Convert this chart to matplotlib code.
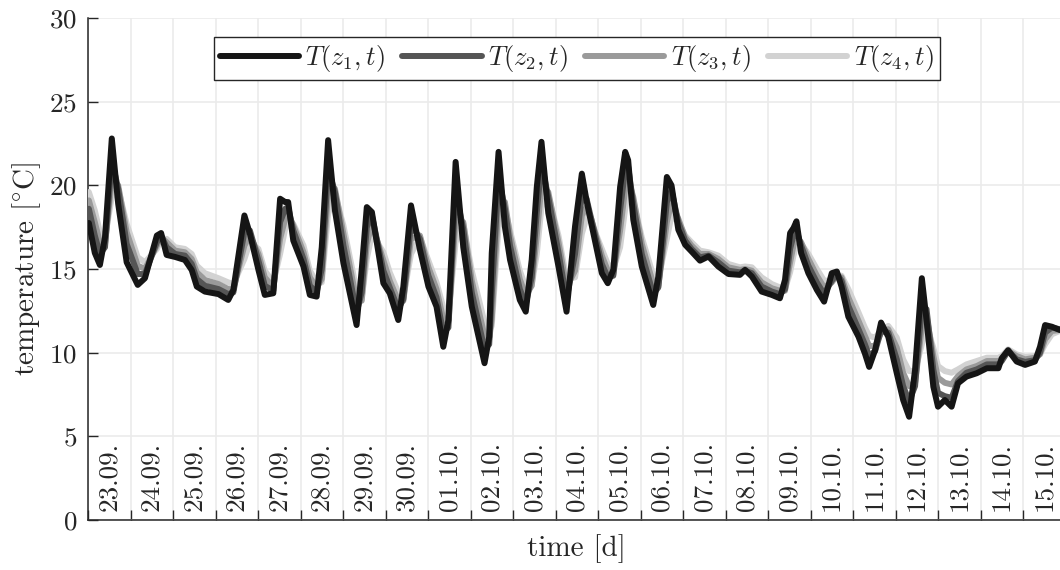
import numpy as np
import matplotlib
matplotlib.use("Agg")
import matplotlib.pyplot as plt

# time in days since 23.09. 00:00
days = [0.02, 0.16, 0.28, 0.40, 0.56, 0.71, 0.91, 1.17, 1.34, 1.62, 1.72, 1.85, 2.05, 2.28, 2.44,
        2.56, 2.75, 3.07, 3.30, 3.42, 3.68, 3.81, 4.01, 4.16, 4.36, 4.52, 4.64, 4.71, 4.83, 5.07,
        5.22, 5.38, 5.50, 5.65, 5.81, 6.01, 6.32, 6.44, 6.56, 6.68, 6.95, 7.10, 7.30, 7.42, 7.60,
        7.81, 8.01, 8.20, 8.36, 8.48, 8.65, 8.83, 9.03, 9.33, 9.44, 9.50, 9.66, 9.81, 9.93, 10.16,
        10.30, 10.44, 10.56, 10.67, 10.83, 11.07, 11.26, 11.46, 11.62, 11.73, 11.84, 12.09, 12.23,
        12.36, 12.52, 12.64, 12.71, 12.83, 13.03, 13.30, 13.42, 13.62, 13.73, 13.89, 14.05, 14.20,
        14.40, 14.60, 14.83, 15.07, 15.34, 15.46, 15.62, 15.85, 16.09, 16.28, 16.40, 16.52, 16.60,
        16.67, 16.78, 16.95, 17.15, 17.32, 17.50, 17.62, 17.73, 17.89, 18.13, 18.28, 18.38, 18.52,
        18.66, 18.83, 19.03, 19.18, 19.32, 19.46, 19.62, 19.73, 19.89, 20.00, 20.16, 20.32, 20.47,
        20.67, 20.91, 21.15, 21.42, 21.50, 21.65, 21.85, 22.05, 22.28, 22.40, 22.52, 22.68, 22.87]

T1 = [17.75, 15.96, 15.24, 16.9, 22.8, 18.9, 15.4, 14.05, 14.45, 17.0, 17.15, 15.84, 15.72, 15.54, 14.94,
      13.95, 13.65, 13.5, 13.15, 13.75, 18.2, 17.1, 14.95, 13.45, 13.55, 19.2, 19.0, 19.0, 16.7, 15.15,
      13.45, 13.35, 16.3, 22.7, 18.5, 15.35, 11.65, 14.95, 18.7, 18.4, 14.15, 13.55, 11.95, 13.95, 18.8,
      16.15, 13.95, 12.75, 10.35, 11.95, 21.4, 16.3, 12.75, 9.37, 10.95, 15.95, 22.0, 17.5, 15.55, 13.15,
      12.45, 15.55, 19.9, 22.6, 18.35, 15.15, 12.45, 17.55, 20.7, 19.1, 17.75, 14.75, 14.15,
      14.95, 19.9, 22.0, 21.5, 17.95, 15.15, 12.85, 14.55, 20.5, 20.0, 17.35, 16.45, 16.05,
      15.5, 15.75, 15.15, 14.7, 14.65, 14.95, 14.55, 13.65, 13.45, 13.25, 14.35, 17.15, 17.45,
      17.85, 15.95, 14.75, 13.75, 13.05, 14.75, 14.85, 13.95, 12.15, 10.95, 9.95, 9.15, 10.15,
      11.8, 10.95, 8.77, 7.17, 6.17, 8.97, 14.45, 11.95, 7.97, 6.77, 7.17, 6.77, 8.17,
      8.57, 8.77, 9.07, 9.07, 9.67, 10.15, 9.47, 9.27, 9.47, 10.35, 11.65, 11.55, 11.35]

T2 = [18.6, 17.0, 15.9, 16.3, 21.5, 19.8, 16.5, 14.7, 14.7, 16.6, 17.0, 16.3, 15.9, 15.8, 15.3,
      14.4, 14.0, 13.8, 13.5, 13.6, 17.2, 17.3, 15.5, 14.0, 13.7, 17.8, 18.6, 18.7, 17.3, 15.6,
      14.0, 13.6, 15.0, 21.0, 19.6, 16.4, 12.4, 13.6, 17.5, 18.2, 14.9, 13.9, 12.6, 13.2, 17.7,
      16.8, 14.6, 13.3, 11.2, 11.5, 19.6, 17.4, 13.6, 10.2, 10.5, 13.5, 20.5, 18.6, 16.4, 13.8,
      12.9, 14.5, 18.4, 21.3, 19.3, 16.0, 13.2, 15.9, 19.4, 19.2, 18.0, 15.3, 14.5,
      14.6, 18.5, 21.0, 21.1, 18.9, 15.9, 13.5, 13.9, 19.0, 19.7, 17.8, 16.7, 16.2,
      15.7, 15.8, 15.4, 14.9, 14.8, 14.9, 14.75, 13.95, 13.65, 13.5, 13.8, 16.2, 17.0,
      17.3, 16.4, 15.2, 14.2, 13.5, 14.3, 14.7, 14.3, 12.8, 11.4, 10.5, 9.8, 10.1,
      11.3, 11.2, 9.6, 8.0, 7.1, 8.0, 12.8, 12.6, 9.0, 7.6, 7.4, 7.3, 8.3,
      8.8, 9.0, 9.3, 9.3, 9.5, 10.1, 9.6, 9.45, 9.55, 10.0, 11.2, 11.5, 11.4]

T3 = [19.1, 17.8, 16.6, 16.5, 20.3, 20.0, 17.2, 15.2, 15.0, 16.4, 16.9, 16.6, 16.1, 16.0, 15.6,
      14.8, 14.35, 14.1, 13.8, 13.8, 16.4, 17.0, 15.9, 14.5, 13.9, 16.8, 18.0, 18.3, 17.6, 16.0,
      14.5, 13.9, 14.4, 19.6, 19.8, 17.1, 13.1, 13.1, 16.5, 17.7, 15.5, 14.3, 13.1, 13.1, 16.8,
      17.0, 15.1, 13.8, 12.0, 11.8, 18.0, 17.8, 14.3, 11.0, 10.8, 12.0, 19.0, 19.0, 17.0, 14.4,
      13.4, 14.0, 17.0, 20.0, 19.6, 16.6, 13.9, 14.9, 18.2, 18.7, 18.0, 15.8, 14.9,
      14.7, 17.3, 19.8, 20.4, 19.3, 16.5, 14.1, 14.0, 17.8, 19.0, 18.0, 16.9, 16.4,
      15.9, 15.9, 15.6, 15.1, 14.95, 15.0, 14.9, 14.2, 13.85, 13.7, 13.7, 15.4, 16.4,
      16.9, 16.6, 15.6, 14.6, 13.9, 14.2, 14.6, 14.5, 13.3, 11.9, 11.0, 10.4, 10.4,
      11.2, 11.4, 10.3, 8.8, 8.0, 8.2, 11.5, 12.2, 9.8, 8.5, 8.2, 8.1, 8.6,
      9.0, 9.2, 9.5, 9.5, 9.6, 10.1, 9.8, 9.6, 9.7, 9.9, 10.8, 11.3, 11.35]

T4 = [19.6, 18.5, 17.2, 16.9, 19.3, 19.8, 17.7, 15.7, 15.4, 16.2, 16.8, 16.8, 16.3, 16.2, 15.9,
      15.2, 14.75, 14.45, 14.2, 14.1, 15.6, 16.6, 16.2, 14.9, 14.2, 15.9, 17.4, 17.9, 17.7, 16.4,
      14.9, 14.2, 14.2, 18.3, 19.5, 17.6, 13.7, 13.2, 15.6, 17.1, 16.0, 14.8, 13.6, 13.3, 15.9,
      16.9, 15.5, 14.2, 12.7, 12.2, 16.6, 17.7, 14.9, 11.8, 11.3, 11.6, 17.5, 18.6, 17.3, 14.9,
      13.9, 14.0, 15.9, 18.7, 19.4, 17.0, 14.4, 14.5, 17.1, 18.1, 17.8, 16.2, 15.3,
      15.0, 16.3, 18.6, 19.5, 19.1, 16.9, 14.6, 14.4, 16.8, 18.2, 17.8, 17.0, 16.6,
      16.1, 16.0, 15.8, 15.3, 15.1, 15.15, 15.1, 14.5, 14.1, 13.9, 13.8, 14.8, 15.8,
      16.4, 16.5, 15.9, 15.0, 14.3, 14.3, 14.6, 14.6, 13.8, 12.4, 11.5, 11.0, 10.9,
      11.3, 11.6, 10.9, 9.6, 8.9, 8.9, 10.5, 11.6, 10.3, 9.2, 8.9, 8.8, 9.0,
      9.3, 9.5, 9.7, 9.7, 9.8, 10.2, 9.9, 9.75, 9.8, 9.9, 10.5, 11.1, 11.3]

date_labels = ["23.09.", "24.09.", "25.09.", "26.09.", "27.09.", "28.09.", "29.09.", "30.09.",
               "01.10.", "02.10.", "03.10.", "04.10.", "05.10.", "06.10.", "07.10.", "08.10.",
               "09.10.", "10.10.", "11.10.", "12.10.", "13.10.", "14.10.", "15.10."]

series = [T1, T2, T3, T4]
names = [r"$T(z_1,t)$", r"$T(z_2,t)$", r"$T(z_3,t)$", r"$T(z_4,t)$"]
colors = ["#151515", "#555555", "#9a9a9a", "#d2d2d2"]

plt.rcParams["font.family"] = "serif"
plt.rcParams["font.serif"] = ["cmr10"]
plt.rcParams["mathtext.fontset"] = "cm"
plt.rcParams["axes.formatter.use_mathtext"] = True

txt = "#262626"
fig = plt.figure(figsize=(10.6, 5.7), dpi=100)
ax = fig.add_axes([88 / 1060, 50 / 570, 977.5 / 1060, 502 / 570])

for i in range(len(series)):
    ax.plot(days, series[i], color=colors[i], lw=4.3, label=names[i], zorder=10 - i,
            solid_joinstyle="round", solid_capstyle="round")

ax.set_xlim(0, len(date_labels))
ax.set_ylim(0, 30)
ax.set_yticks(np.arange(0, 31, 5))
ax.set_xticks(np.arange(0, len(date_labels) + 1))
ax.set_xticklabels([])
ax.grid(True, color="#ebebeb", lw=1.2, zorder=0)
ax.set_axisbelow(True)
ax.tick_params(direction="in", length=7, width=1, colors=txt, labelsize=19.5, pad=8)
for s in ["top", "right"]:
    ax.spines[s].set_visible(False)
for s in ["left", "bottom"]:
    ax.spines[s].set_color(txt)
    ax.spines[s].set_linewidth(1.1)

for i in range(len(date_labels)):
    ax.text(i + 0.5, 4.68, date_labels[i], rotation=90, ha="center", va="top",
            fontsize=19.5, color=txt)

ax.set_xlabel("time [d]", color=txt, fontsize=21, labelpad=2)
ax.set_ylabel(r"temperature [$^{\circ}$C]", color=txt, fontsize=21, labelpad=4)

leg = ax.legend(loc="upper center", bbox_to_anchor=(0.5, 1 - 19 / 502), ncol=4,
                frameon=True, fancybox=False, framealpha=1, edgecolor=txt,
                handlelength=3.0, handletextpad=0.25, columnspacing=0.65,
                borderpad=0.22, borderaxespad=0, fontsize=19)
leg.get_frame().set_linewidth(1.0)
for t in leg.get_texts():
    t.set_color(txt)

fig.savefig("out.png", dpi=100)
